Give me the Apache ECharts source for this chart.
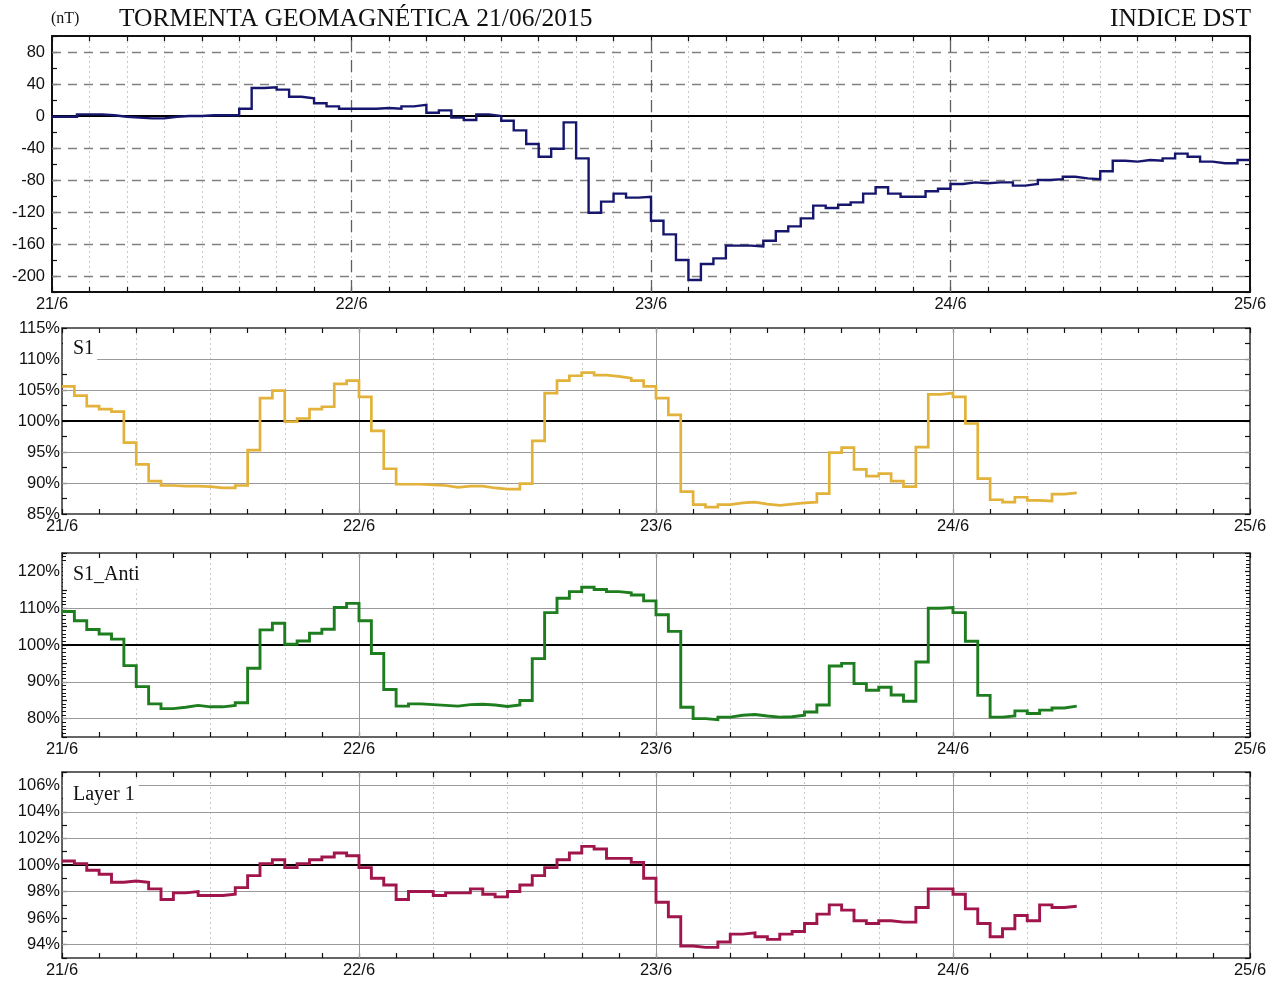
<!DOCTYPE html>
<html><head><meta charset="utf-8">
<script src="https://cdn.jsdelivr.net/npm/echarts@6/dist/echarts.min.js"></script>
<style>html,body{margin:0;padding:0;background:#fff}#c{width:1278px;height:983px}</style>
</head><body><div id="c"></div>
<script>
// ---- data (hourly values, hour 0 = 21/6 00h) ----
const dayLabels = ['21/6', '22/6', '23/6', '24/6', '25/6'];
const dstValues = [
  -1, -1, 2, 2, 1, -1, -2, -3, -3, -1, 0, 0, 1, 1, 1, 9, 35, 36, 33, 24, 22, 16, 12, 9,
  9, 9, 10, 9, 12, 14, 4, 7, -2, -5, 2, 0, -6, -18, -35, -51, -41, -8, -53, -121, -107, -97, -102, -101,
  -131, -148, -180, -205, -185, -178, -162, -162, -163, -156, -144, -138, -128, -112, -115, -111, -108, -97, -89, -97, -101, -101, -94, -91,
  -85, -83, -84, -83, -83, -87, -85, -80, -79, -76, -78, -79, -69, -56, -57, -55, -56, -53, -47, -51, -57, -59, -59, -55
];
const s1Values = [
  105.6, 104.1, 102.4, 101.9, 101.5, 96.5, 93.0, 90.3, 89.6, 89.5, 89.5, 89.4, 89.2, 89.2, 89.6, 95.3, 103.7, 104.9, 99.9, 100.4, 101.9, 102.3, 106.0, 106.5,
  103.9, 98.4, 92.3, 89.8, 89.8, 89.7, 89.6, 89.3, 89.5, 89.5, 89.2, 89.0, 89.0, 89.9, 96.8, 104.5, 106.5, 107.3, 107.8, 107.4, 107.2, 106.9, 106.5, 105.6,
  103.7, 101.0, 88.6, 86.5, 86.1, 86.5, 86.8, 86.9, 86.6, 86.4, 86.6, 86.8, 86.9, 88.3, 94.9, 95.7, 92.2, 91.1, 91.5, 90.3, 89.4, 95.8, 104.3, 104.5,
  103.9, 99.6, 90.7, 87.3, 86.9, 87.7, 87.2, 87.1, 88.2, 88.4
];
const s1AntiValues = [
  109.1, 106.6, 104.2, 103.0, 101.6, 94.4, 88.7, 84.0, 82.7, 83.1, 83.6, 83.2, 83.2, 83.6, 84.3, 93.7, 104.1, 105.9, 100.2, 101.1, 103.2, 104.3, 110.2, 111.3,
  106.6, 97.7, 87.9, 83.4, 84.0, 83.8, 83.6, 83.4, 83.8, 83.9, 83.7, 83.3, 83.7, 84.9, 96.3, 108.8, 112.7, 114.5, 115.7, 115.1, 114.5, 114.2, 113.6, 112.0,
  108.2, 103.7, 83.1, 80.0, 79.7, 80.4, 80.9, 81.1, 80.7, 80.4, 80.5, 80.9, 81.8, 83.7, 94.3, 95.0, 89.5, 87.7, 88.5, 86.4, 84.7, 95.4, 110.0, 110.2,
  108.8, 101.0, 86.3, 80.4, 80.7, 82.1, 81.4, 82.3, 82.9, 83.4
];
const layer1Values = [
  100.3, 100.1, 99.6, 99.3, 98.7, 98.8, 98.7, 98.2, 97.4, 97.9, 98.0, 97.7, 97.7, 97.8, 98.3, 99.2, 100.1, 100.4, 99.8, 100.1, 100.4, 100.6, 100.9, 100.7,
  99.8, 99.0, 98.5, 97.4, 98.0, 98.0, 97.7, 97.9, 97.9, 98.2, 97.8, 97.6, 98.0, 98.5, 99.2, 99.8, 100.4, 100.9, 101.4, 101.2, 100.5, 100.5, 100.2, 99.0,
  97.2, 96.1, 93.9, 93.8, 93.8, 94.2, 94.8, 94.9, 94.6, 94.4, 94.8, 95.0, 95.6, 96.3, 97.0, 96.6, 95.8, 95.6, 95.8, 95.7, 95.7, 96.8, 98.2, 98.2,
  97.8, 96.7, 95.6, 94.6, 95.2, 96.2, 95.8, 97.0, 96.8, 96.9
];
// gridline / tick values
const dayLines = [24, 48, 72];
const dstGridLines = [80, 40, -40, -80, -120, -160, -200];
const s1GridLines = [110, 105, 95, 90];
const s1AntiGridLines = [110, 90, 80];
const layer1GridLines = [106, 104, 102, 98, 94];

const SANS = 'Liberation Sans';
const SERIF = 'Liberation Serif';
const AXIS_FS = 16.5;

function stepData(arr) {
  const d = arr.map((v, i) => [i, v]);
  d.push([arr.length, arr[arr.length - 1]]);
  return d;
}

const panels = [
  { grid: { left: 52, top: 36, width: 1198, height: 256 }, min: -220, max: 100, interval: 20, minor: 0,
    labelEvery: 40, labelMin: -200, labelMax: 80, suffix: '', ref: 0, values: dstValues, color: '#16166e', width: 2.4,
    grid2: dstGridLines, gridStyle: { color: '#808080', type: [9, 7], width: 1.4 }, dayStyle: { color: '#606060', type: [12, 8], width: 1.3 },
    xInterval: 3, xMinor: 0, frame: '#111', frameW: 2, yMargin: 7 },
  { grid: { left: 62, top: 328, width: 1188, height: 186 }, min: 85, max: 115, interval: 2.5, minor: 0,
    labelEvery: 5, labelMin: 85, labelMax: 115, suffix: '%', ref: 100, values: s1Values, color: '#e2b23a', width: 2.7,
    grid2: s1GridLines, gridStyle: { color: '#9a9a9a', type: 'solid', width: 1 }, dayStyle: { color: '#9a9a9a', type: 'solid', width: 1 },
    xInterval: 6, xMinor: 2, frame: '#333', frameW: 1.5, yMargin: 2 },
  { grid: { left: 62, top: 553, width: 1188, height: 184 }, min: 75, max: 125, interval: 5, minor: 5,
    labelEvery: 10, labelMin: 80, labelMax: 120, suffix: '%', ref: 100, values: s1AntiValues, color: '#1e7d1e', width: 2.9,
    grid2: s1AntiGridLines, gridStyle: { color: '#9a9a9a', type: 'solid', width: 1 }, dayStyle: { color: '#9a9a9a', type: 'solid', width: 1 },
    xInterval: 6, xMinor: 2, frame: '#333', frameW: 1.5, yMargin: 2 },
  { grid: { left: 62, top: 772, width: 1188, height: 186 }, min: 93, max: 107, interval: 1, minor: 0,
    labelEvery: 2, labelMin: 94, labelMax: 106, suffix: '%', ref: 100, values: layer1Values, color: '#a0154c', width: 2.9,
    grid2: layer1GridLines, gridStyle: { color: '#9a9a9a', type: 'solid', width: 1 }, dayStyle: { color: '#9a9a9a', type: 'solid', width: 1 },
    xInterval: 6, xMinor: 2, frame: '#333', frameW: 1.5, yMargin: 2 }
];

const grids = [], xAxes = [], yAxes = [], series = [];
panels.forEach((p, i) => {
  grids.push(Object.assign({ containLabel: false }, p.grid));
  const lineSt = { color: p.frame, width: p.frameW };
  const xBase = {
    gridIndex: i, type: 'value', min: 0, max: 96, interval: p.xInterval,
    axisLine: { show: true, onZero: false, lineStyle: lineSt },
    axisTick: { show: true, inside: true, length: 5, lineStyle: { color: '#111', width: 1.2 } },
    minorTick: p.xMinor ? { show: true, splitNumber: p.xMinor, length: 5, lineStyle: { color: '#111', width: 1.2 } } : { show: false },
    splitLine: { show: false }, minorSplitLine: { show: false }
  };
  xAxes.push(Object.assign({}, xBase, {
    position: 'bottom',
    axisLabel: { show: true, margin: 4, fontFamily: SANS, fontSize: AXIS_FS, color: '#111',
      formatter: v => (v % 24 === 0 ? dayLabels[v / 24] : '') },
    splitLine: { show: true, lineStyle: { color: '#c8c8c8', type: [2, 3], width: 1 } }
  }));
  xAxes.push(Object.assign({}, xBase, { position: 'top', axisLabel: { show: false } }));
  const yBase = {
    gridIndex: i, type: 'value', min: p.min, max: p.max, interval: p.interval,
    axisLine: { show: true, onZero: false, lineStyle: lineSt },
    axisTick: { show: true, inside: true, length: 5, lineStyle: { color: '#111', width: 1.2 } },
    minorTick: p.minor ? { show: true, splitNumber: p.minor, length: 4, lineStyle: { color: '#111', width: 1 } } : { show: false },
    splitLine: { show: false }
  };
  yAxes.push(Object.assign({}, yBase, {
    position: 'left',
    axisLabel: { show: true, margin: p.yMargin, fontFamily: SANS, fontSize: AXIS_FS, color: '#111',
      formatter: v => {
        const r = Math.round(v * 100) / 100;
        if (Math.abs(r / p.labelEvery - Math.round(r / p.labelEvery)) > 1e-6) return '';
        if (r < p.labelMin || r > p.labelMax) return '';
        return r + p.suffix;
      } }
  }));
  yAxes.push(Object.assign({}, yBase, { position: 'right', axisLabel: { show: false } }));

  const ml = [];
  p.grid2.forEach(v => ml.push({ yAxis: v, lineStyle: p.gridStyle }));
  dayLines.forEach(v => ml.push({ xAxis: v, lineStyle: p.dayStyle }));
  ml.push({ yAxis: p.ref, lineStyle: { color: '#000', type: 'solid', width: 2 } });

  series.push({
    type: 'line', xAxisIndex: 2 * i, yAxisIndex: 2 * i, data: stepData(p.values), step: 'end',
    symbol: 'none', showSymbol: false, z: 3,
    lineStyle: { color: p.color, width: p.width, join: 'miter' },
    markLine: { silent: true, symbol: ['none', 'none'], z: 1, animation: false, label: { show: false }, data: ml }
  });
});

const serifTitle = (text, pos, size, extra) => Object.assign({
  text, padding: 0,
  textStyle: { fontFamily: SERIF, fontSize: size, fontWeight: 'normal', color: '#111' }
}, pos, extra || {});

const titles = [
  serifTitle('(nT)', { left: 51, top: 11 }, 16),
  serifTitle('TORMENTA GEOMAGNÉTICA 21/06/2015', { left: 119, top: 6 }, 25.5),
  serifTitle('INDICE DST', { right: 27, top: 6 }, 25.5),
  serifTitle('S1', { left: 63, top: 335 }, 20, { backgroundColor: '#fff', padding: [4, 3, 4, 10] }),
  serifTitle('S1_Anti', { left: 63, top: 561 }, 20, { backgroundColor: '#fff', padding: [4, 3, 4, 10] }),
  serifTitle('Layer 1', { left: 63, top: 782 }, 20, { backgroundColor: '#fff', padding: [3, 4, 5, 10] })
];

const chart = echarts.init(document.getElementById('c'), null, { renderer: 'canvas' });
chart.setOption({
  backgroundColor: '#fff',
  animation: false,
  title: titles,
  grid: grids,
  xAxis: xAxes,
  yAxis: yAxes,
  series: series
});
</script>
</body></html>
